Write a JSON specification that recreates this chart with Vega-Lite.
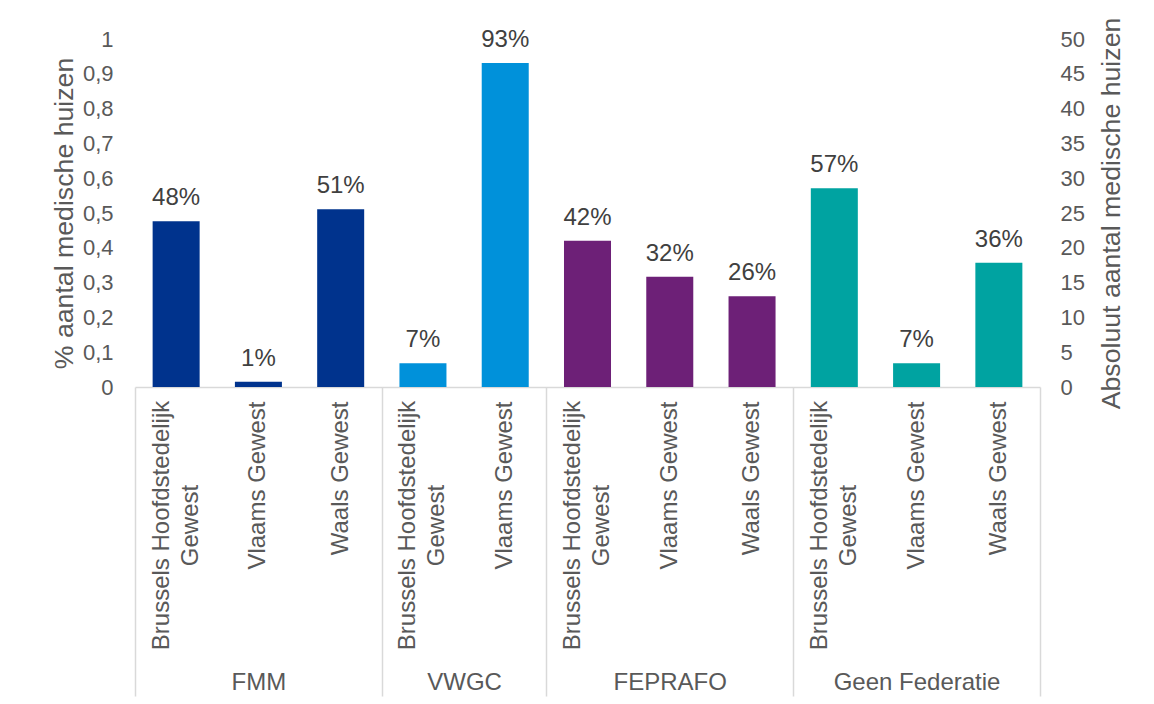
{
  "$schema": "https://vega.github.io/schema/vega-lite/v6.json",
  "width": 905,
  "height": 348,
  "autosize": "none",
  "padding": {"left": 135, "top": 39, "right": 114, "bottom": 317},
  "background": "white",
  "config": {
    "view": {"stroke": null},
    "font": "Liberation Sans",
    "axis": {"grid": false}
  },
  "data": {
    "values": [
      {"key": "FMM|Brussels Hoofdstedelijk Gewest", "group": "FMM", "value": 0.476},
      {"key": "FMM|Vlaams Gewest", "group": "FMM", "value": 0.0149},
      {"key": "FMM|Waals Gewest", "group": "FMM", "value": 0.511},
      {"key": "VWGC|Brussels Hoofdstedelijk Gewest", "group": "VWGC", "value": 0.068},
      {"key": "VWGC|Vlaams Gewest", "group": "VWGC", "value": 0.931},
      {"key": "FEPRAFO|Brussels Hoofdstedelijk Gewest", "group": "FEPRAFO", "value": 0.42},
      {"key": "FEPRAFO|Vlaams Gewest", "group": "FEPRAFO", "value": 0.317},
      {"key": "FEPRAFO|Waals Gewest", "group": "FEPRAFO", "value": 0.261},
      {"key": "Geen Federatie|Brussels Hoofdstedelijk Gewest", "group": "Geen Federatie", "value": 0.571},
      {"key": "Geen Federatie|Vlaams Gewest", "group": "Geen Federatie", "value": 0.068},
      {"key": "Geen Federatie|Waals Gewest", "group": "Geen Federatie", "value": 0.357}
    ]
  },
  "layer": [
    {
      "mark": {"type": "bar"},
      "encoding": {
        "x": {
          "field": "key", "type": "nominal", "sort": null,
          "scale": {"type": "band", "paddingInner": 0.4286, "paddingOuter": 0.2143},
          "axis": {
            "orient": "bottom",
            "title": null,
            "domain": true, "domainColor": "#d9d9d9", "domainWidth": 1.5,
            "ticks": false, "tickSize": 0,
            "labelAngle": 270,
            "labelBaseline": "middle",
            "labelAlign": {"condition": {"test": "indexof('' + datum.value,'Brussels')>=0", "value": "center"}, "value": "right"},
            "labelPadding": {"condition": {"test": "indexof('' + datum.value,'Brussels')>=0", "value": 138}, "value": 14},
            "labelOffset": {"condition": {"test": "indexof('' + datum.value,'Brussels')>=0", "value": -14.5}, "value": 0},
            "labelFontSize": 24,
            "labelColor": "#595959",
            "labelLineHeight": 29,
            "labelLimit": 500,
            "labelOverlap": false,
            "labelExpr": "indexof('' + datum.value,'Brussels')>=0 ? ['Brussels Hoofdstedelijk', 'Gewest'] : split('' + datum.value,'|')[1]"
          }
        },
        "y": {
          "field": "value", "type": "quantitative",
          "scale": {"domain": [0, 1], "nice": false},
          "axis": {
            "orient": "left",
            "title": "% aantal medische huizen",
            "values": [0, 0.1, 0.2, 0.3, 0.4, 0.5, 0.6, 0.7, 0.8, 0.9, 1],
            "labelExpr": "replace(format(datum.value,'.1~f'),'.',',')",
            "domain": false, "ticks": false,
            "labelFontSize": 22, "labelColor": "#595959", "labelPadding": 22,
            "titleFontSize": 26.7, "titleColor": "#595959", "titleFontWeight": "normal",
            "titleAngle": 270, "titleBaseline": "alphabetic", "titlePadding": 10
          }
        },
        "color": {
          "field": "group", "type": "nominal",
          "scale": {"domain": ["FMM", "VWGC", "FEPRAFO", "Geen Federatie"], "range": ["#00338D", "#0091DA", "#6D2077", "#00A3A1"]},
          "legend": null
        }
      }
    },
    {
      "mark": {"type": "text", "dy": -16, "baseline": "alphabetic", "fontSize": 24, "color": "#404040"},
      "encoding": {
        "x": {"field": "key", "type": "nominal", "sort": null, "scale": {"type": "band", "paddingInner": 0.4286, "paddingOuter": 0.2143}, "axis": null},
        "y": {"field": "value", "type": "quantitative", "scale": {"domain": [0, 1], "nice": false}, "axis": null},
        "text": {"field": "value", "type": "quantitative", "format": ".0%"}
      }
    },
    {
      "mark": {"type": "bar", "opacity": 0},
      "encoding": {
        "x": {
          "field": "key", "type": "nominal", "sort": null,
          "scale": {"type": "band", "paddingInner": 0, "paddingOuter": 0},
          "axis": {
            "orient": "bottom",
            "title": null,
            "domain": false,
            "ticks": true, "tickBand": "extent", "tickSize": 309, "tickColor": "#d9d9d9", "tickWidth": 1.5,
            "tickOpacity": {"condition": {"test": "datum.extra || indexof('' + datum.value,'Waals')>=0 || datum.value == 'VWGC|Vlaams Gewest'", "value": 1}, "value": 0},
            "labelAngle": 0,
            "labelAlign": "center",
            "labelOffset": {"condition": {"test": "'' + datum.value == 'VWGC|Brussels Hoofdstedelijk Gewest'", "value": 41.1}, "value": 0},
            "labelBaseline": "middle",
            "labelPadding": -14,
            "labelFontSize": 24, "labelColor": "#595959", "labelLimit": 500, "labelOverlap": false,
            "labelExpr": "(indexof('' + datum.value,'Vlaams')>=0 && indexof('' + datum.value,'VWGC')<0) || ('' + datum.value) == 'VWGC|Brussels Hoofdstedelijk Gewest' ? split('' + datum.value,'|')[0] : ''"
          }
        },
        "y": {
          "datum": 0, "type": "quantitative",
          "scale": {"domain": [0, 50], "nice": false},
          "axis": {
            "orient": "right",
            "title": "Absoluut aantal medische huizen",
            "values": [0, 5, 10, 15, 20, 25, 30, 35, 40, 45, 50],
            "domain": false, "ticks": false,
            "labelFontSize": 22, "labelColor": "#595959", "labelPadding": 20,
            "titleFontSize": 26.7, "titleColor": "#595959", "titleFontWeight": "normal",
            "titleAngle": 270, "titleBaseline": "top", "titlePadding": 14
          }
        }
      }
    }
  ],
  "resolve": {"scale": {"x": "independent", "y": "independent"}}
}
